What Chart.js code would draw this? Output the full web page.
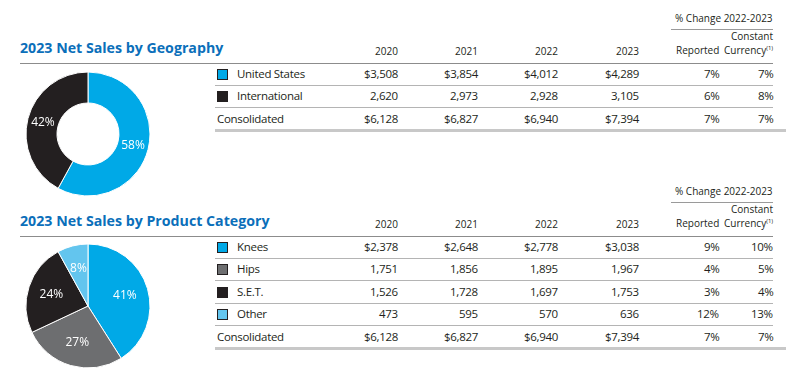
<!DOCTYPE html>
<html>
<head>
<meta charset="utf-8">
<script src="https://cdn.jsdelivr.net/npm/chart.js@4"></script>
<style>
  html, body { margin: 0; padding: 0; background: #fff; }
  body { width: 800px; height: 374px; position: relative; overflow: hidden;
         font-family: "Open Sans", sans-serif; color: #231f20; }
  .t { position: absolute; white-space: nowrap; line-height: 1; }
  .title { font-weight: 700; font-size: 14.2px; color: #0b6fba; }
  .hd { font-size: 10px; }
  .cell { font-size: 11.5px; letter-spacing: -0.3px; }
  .ln { position: absolute; height: 0; }
  .sq { position: absolute; width: 9px; height: 9px; border: 1px solid #231f20; }
  canvas { position: absolute; }
  sup { font-size: 6px; vertical-align: 4px; }
</style>
</head>
<body>
<canvas id="geo" width="130" height="130" style="left:23px;top:69px"></canvas>
<canvas id="product" width="130" height="130" style="left:23px;top:241px"></canvas>
<script>
var years = ['2020', '2021', '2022', '2023'];

// geography
var geoTitle = '2023 Net Sales by Geography';
var geoCategories = ['United States', 'International'];
var usSales = [3508, 3854, 4012, 4289];
var intlSales = [2620, 2973, 2928, 3105];
var geoTotal = [6128, 6827, 6940, 7394];
var geoReported = [7, 6, 7];
var geoConstant = [7, 8, 7];
var geoShare = [58, 42];
var geoColors = ['#00a9e7', '#231f20'];

// product category
var productTitle = '2023 Net Sales by Product Category';
var productCategories = ['Knees', 'Hips', 'S.E.T.', 'Other'];
var kneesSales = [2378, 2648, 2778, 3038];
var hipsSales = [1751, 1856, 1895, 1967];
var setSales = [1526, 1728, 1697, 1753];
var otherSales = [473, 595, 570, 636];
var productTotal = [6128, 6827, 6940, 7394];
var productReported = [9, 4, 3, 12, 7];
var productConstant = [10, 5, 4, 13, 7];
var productShare = [41, 27, 24, 8];
var productColors = ['#00a9e7', '#6d6e70', '#231f20', '#63c5ee'];

var yearRight = [398, 478, 558, 639];

function text(str, x, y, cls, align) {
  var d = document.createElement('div');
  d.className = 't ' + cls;
  d.innerHTML = str;
  document.body.appendChild(d);
  var w = d.offsetWidth, h = d.offsetHeight;
  d.style.left = (align == 'right' ? x - w : x) + 'px';
  d.style.top = (y - h / 2) + 'px';
  return d;
}

function line(x1, x2, y, w, color) {
  var d = document.createElement('div');
  d.className = 'ln';
  d.style.left = x1 + 'px';
  d.style.width = (x2 - x1) + 'px';
  d.style.top = (y - w / 2) + 'px';
  d.style.borderTop = w + 'px solid ' + color;
  document.body.appendChild(d);
}

function money(v, dollar) {
  return (dollar ? '$' : '') + v.toLocaleString('en-US');
}

function drawTable(top, title, names, colors, rows, total, reported, constant) {
  text('% Change 2022-2023', 773, top + 18, 'hd', 'right');
  line(671, 773, top + 29, 1, '#9a9a9a');
  text('Constant', 773, top + 36, 'hd', 'right');
  text('Currency<sup>(1)</sup>', 773, top + 50, 'hd', 'right');
  text('Reported', 719, top + 50, 'hd', 'right');
  years.forEach(function(y, i) {
    text(y, yearRight[i], top + 51, 'hd', 'right');
  });
  text(title, 20, top + 48, 'title', 'left');
  line(20, 773, top + 63, 1, '#8c8c8c');

  var allRows = rows.concat([total]);
  allRows.forEach(function(vals, r) {
    var cy = top + 74 + r * 22.4;
    var isTotal = r == allRows.length - 1;
    if (isTotal) {
      text('Consolidated', 217, cy, 'cell', 'left');
    } else {
      var sq = document.createElement('div');
      sq.className = 'sq';
      sq.style.left = '217px';
      sq.style.top = (cy - 5) + 'px';
      sq.style.background = colors[r];
      document.body.appendChild(sq);
      text(names[r], 237, cy, 'cell', 'left');
    }
    vals.forEach(function(v, i) {
      text(money(v, r == 0 || isTotal), yearRight[i], cy, 'cell', 'right');
    });
    text(reported[r] + '%', 719, cy, 'cell', 'right');
    text(constant[r] + '%', 773, cy, 'cell', 'right');
    if (isTotal) line(215, 786, cy + 12, 3, '#c8c8c8');
    else line(215, 773, cy + 11.5, 1.5, '#b4b4b4');
  });
}

// white percentage labels on each slice
var sliceLabels = {
  id: 'sliceLabels',
  afterDatasetsDraw: function(chart, args, opts) {
    var ctx = chart.ctx;
    var data = chart.data.datasets[0].data;
    chart.getDatasetMeta(0).data.forEach(function(arc, i) {
      var p = arc.getProps(['x', 'y', 'startAngle', 'endAngle', 'innerRadius', 'outerRadius']);
      var mid = (p.startAngle + p.endAngle) / 2;
      var r = p.innerRadius + (p.outerRadius - p.innerRadius) * opts.pos;
      ctx.save();
      ctx.fillStyle = '#fff';
      ctx.font = '12px "Open Sans"';
      ctx.textAlign = 'center';
      ctx.textBaseline = 'middle';
      ctx.fillText(data[i] + '%', p.x + Math.cos(mid) * r, p.y + Math.sin(mid) * r);
      ctx.restore();
    });
  }
};

function load_pie(el, labels, values, colors, cutout, pos) {
  new Chart(el, {
    type: 'doughnut',
    data: {
      labels: labels,
      datasets: [{
        data: values,
        backgroundColor: colors,
        borderColor: '#fff',
        borderWidth: 1
      }]
    },
    options: {
      responsive: false,
      animation: false,
      cutout: cutout,
      radius: 62,
      layout: { padding: 0 },
      plugins: {
        legend: { display: false },
        tooltip: { enabled: false },
        sliceLabels: { pos: pos }
      }
    },
    plugins: [sliceLabels]
  });
}

drawTable(0, geoTitle, geoCategories, geoColors, [usSales, intlSales], geoTotal, geoReported, geoConstant);
drawTable(173, productTitle, productCategories, productColors, [kneesSales, hipsSales, setSales, otherSales], productTotal, productReported, productConstant);

load_pie(document.getElementById('geo'), geoCategories, geoShare, geoColors, '50%', 0.5);
load_pie(document.getElementById('product'), productCategories, productShare, productColors, 0, 0.62);
</script>
</body>
</html>
